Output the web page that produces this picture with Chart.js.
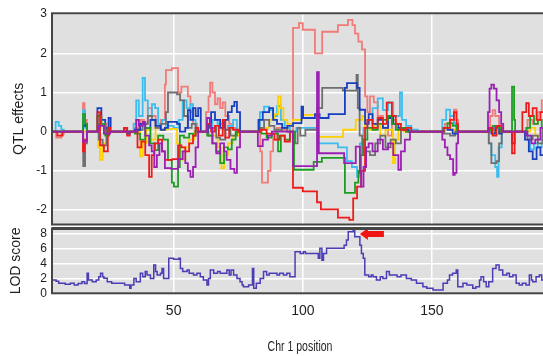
<!DOCTYPE html>
<html>
<head>
<meta charset="utf-8">
<script src="https://cdn.jsdelivr.net/npm/chart.js@4"></script>
<style>
  html, body { margin: 0; padding: 0; background: #fff; overflow: hidden; }
  #wrap { position: relative; width: 543px; height: 356px; overflow: hidden; }
  #qtlChart { position: absolute; left: 0; top: 0; }
  #lodChart { position: absolute; left: 0; top: 226px; }
  #xTitle {
    position: absolute; left: 200px; width: 200px; top: 337px;
    text-align: center; font: 15px 'Liberation Sans', Arial, sans-serif; color: #1e1e1e;
    transform: scaleX(0.7); transform-origin: 50% 50%;
  }
</style>
</head>
<body>
<div id="wrap">
  <canvas id="qtlChart" width="550" height="228"></canvas>
  <canvas id="lodChart" width="550" height="130"></canvas>
  <div id="xTitle">Chr 1 position</div>
</div>
<script>
// tick labels
const X_TICKS = [50, 100, 150];
const QTL_TICKS = [-2, -1, 0, 1, 2, 3];
const LOD_TICKS = [0, 2, 4, 6, 8];

// QTL effects per founder, [position, effect] (step lines)
const purple = [
  [2.9,0],
  [14.9,-0.25],[16.4,0],
  [21,0.15],[23,-0.05],[25.4,0],
  [35.5,0.3],[36.5,0.15],[38,0.25],[39,-0.1],[40.5,-0.35],[41.5,-0.5],[42.5,-0.9],[43.5,-0.6],[44.5,-0.3],[45.5,-0.5],[46.6,-0.93],[49,-0.95],[51.7,-0.7],[53.5,-0.5],[54.5,-0.8],[55.5,-1.0],[56.5,-1.15],[57.5,-0.9],[58.5,-0.4],[59.5,0],
  [62.9,0.35],[64,0.1],[65,-0.3],[66.5,-0.55],[68,-0.3],[69.5,-0.5],[70.5,-0.72],[72,-0.95],[73.5,-1.05],[74.5,-0.4],[75.7,0],
  [82.6,-0.37],[84.5,-0.2],[86.5,-0.1],[88,0],
  [96.2,-0.88],[105.5,1.52],[106.2,-0.55],[116,-0.8],[120.5,-0.38],[122.1,-1.05],[122.6,-1.4],[123.5,-0.9],[124.5,-0.4],[125.5,-0.3],[127,-0.5],[129,-0.2],[131,-0.45],[133,-0.3],[135,-0.6],[137,-0.97],[138,-0.5],[139.5,-0.2],[141.5,0],
  [154,-0.2],[155,-0.4],[156,-0.6],[157,-0.7],[158.2,-1.1],[158.8,-1.05],[159.5,-0.3],[160.1,0],
  [171.7,0.5],[172.3,1.1],[173,1.2],[174,1.1],[175,0.8],[176,0.5],[176.8,0.2],[177.6,0],
  [186.8,-0.1],[188.5,-0.3],[190,-0.2],[192,0.1],[196,0.1]
];
const red = [
  [2.9,0],
  [5,-0.1],[7,0],
  [14.9,-0.5],[15.5,-0.2],[16.4,0],
  [20.5,0.5],[21.5,-0.35],[23,-0.5],[24.5,0.1],[25.4,0],
  [31,0.1],[32,-0.1],[33,0],
  [36,-0.4],[37.5,-0.25],[39,-0.6],[40.5,-1.15],[41.5,-0.6],[42.5,-0.3],[44,-0.2],[45.5,-0.5],[46.6,-0.72],[49.5,-0.7],[51.7,-0.35],[53,-0.4],[54.5,-0.5],[56,-0.3],[57.5,-0.1],[58.5,0.1],[59.5,0],
  [63,0.2],[64.5,0],[66,0.15],[67.5,-0.1],[69,0.3],[70,-0.15],[71.5,0.1],[73,0.05],[75,0],
  [83.5,0.05],[86,-0.05],[89,-0.2],[91,-0.1],[93,-0.25],[95,0],
  [96.2,-1.43],[100,-1.52],[105.5,-1.8],[107,-1.98],[113.6,-2.19],[118,-2.25],[119.5,-1.7],[121,-1.4],[122.6,-1.0],[124.1,0.1],
  [125,0.3],[127,0.1],[129,0.35],[131,0.2],[132.5,0.74],[134.5,0.4],[136,0.2],[138,0.05],[140,0.1],[142,0],
  [154.5,0.1],[157,0.3],[158.5,0.5],[159.5,0.2],[160.1,0],
  [172,0.1],[173.5,-0.1],[175,0.15],[177,0],
  [181,-0.55],[182,0],
  [185,0.5],[186.5,0.73],[187.5,0.4],[189,0.6],[190.5,0.3],[192,0.5],[193.5,0.3],[196,0.3]
];
const salmon = [
  [2.9,0],
  [4.5,-0.15],[6.5,-0.05],[7.5,0],
  [14.9,0.73],[15.5,0.3],[16.4,0],
  [20.5,0.4],[22,0.2],[24,0.05],[25.4,0],
  [35,0.1],[37,0.3],[38.5,0.2],[40,0.6],[41.5,0.4],[43,0.1],[45,0.3],[46.6,1.2],[47,1.57],[49.3,1.62],[51.7,1.0],[53,1.15],[55.5,0.9],[56.5,0.5],[57.5,0.2],[59,0],
  [62.5,0.5],[63.5,0.9],[64.1,1.25],[65,1.0],[66,0.7],[67,0.85],[68,0.6],[69,0.75],[70,0.4],[71.5,0.2],[73,0.1],[74.5,0],
  [82.6,0.3],[83.5,-0.5],[84.2,-1.3],[86.5,-1.0],[87.5,-0.5],[88.5,-0.2],[90,0.1],[92,0.05],[94,0],
  [96.2,2.65],[98.5,2.77],[100,2.6],[104.7,2.0],[107.5,2.55],[113.6,2.72],[117.5,2.85],[119.2,2.72],[120.2,2.5],[121.5,2.3],[122.9,2.1],[124.1,0.9],
  [125,0.5],[126,0.9],[127.5,0.75],[129,0.4],[131,0.1],[133,-0.1],[134.5,0.3],[136,0.1],[138,0.05],[141,0],
  [155,0.2],[157,0.4],[158.5,0.56],[159.5,0.3],[160.1,0],
  [172.5,0.4],[173.5,0.55],[174.5,0.4],[176,0.1],[177,0],
  [187,0.3],[189,0.2],[191,0.5],[192.5,0.8],[193.5,0.5],[196,0.5]
];
const gray = [
  [2.9,0],
  [15,-0.88],[15.7,-0.3],[16.4,0],
  [21,-0.2],[22.5,-0.35],[24,0.1],[25,0],
  [36,0.05],[38,0.2],[40,0.4],[41.6,0.3],[43,0.1],[45,0.2],[47,0.5],[47.8,1.0],[51.3,0.95],[52.5,0.8],[54,0.4],[55.5,0.1],[57,0.2],[58.5,0],
  [63.5,-0.1],[65,0.1],[66.5,-0.15],[68,-0.2],[70,0.05],[72,-0.1],[74.5,0],
  [83.5,0.1],[85,0.3],[87,0.15],[89,0.05],[92,0.1],[94,0],
  [97,-0.3],[98,0.1],[99,-0.1],[101,0.05],[105.5,0.6],[107.5,1.12],[115.5,1.05],[120.8,1.45],[121.3,0.6],[122,-0.1],[123,-0.6],[124.1,-0.5],
  [126,-0.6],[128,-0.3],[130,-0.1],[132,-0.4],[134,-0.2],[136,-0.3],[138,0.05],[140,0],
  [154.5,-0.05],[157,-0.1],[159,0],
  [172,-0.3],[173,-0.8],[175,-0.75],[176,-0.3],[177,0],
  [187,-0.2],[189,-0.1],[191,-0.3],[193,0.1],[196,0.1]
];
const blue = [
  [2.9,0],
  [14.9,0.15],[15.7,0.2],[16.4,0],
  [20.5,0.6],[22,0.3],[23.5,0.1],[24.8,0.35],[25.6,0],
  [30.8,0.1],[32,-0.05],[33,0],
  [35,0.05],[37,0.2],[39,0.1],[41,0.3],[43,0.15],[45,0.05],[46.6,0.1],[47.8,0.25],[51.3,0.2],[52.4,0],[54.5,0.1],[55.5,0.55],[56.5,0.3],[57.5,0.6],[58.5,0.4],[59.5,0.6],[60.5,0],
  [63.3,0.2],[64.5,0.5],[66,0.3],[68,0.1],[69.5,0.3],[71,0.5],[72.5,0.65],[73.5,0.76],[74.5,0.5],[75.7,0],
  [83,0.3],[84.5,0.5],[87,0.6],[88.5,0.3],[90,0.2],[92,0.1],[94,0.15],[96.2,0.22],[99.5,0.64],[100.1,0.35],[104.7,0.45],[106.5,0.35],[110,0.45],[116.3,1.12],[117.1,1.24],[121,1.12],[122,0.56],[124.1,0.2],
  [125.5,0.45],[127,0.2],[129,0.3],[131,0.1],[133,0.35],[135,0.2],[137,0.1],[139,0.05],[141,0],
  [154.5,0.1],[156,0.05],[158,-0.05],[160,0],
  [172,0.1],[173,-0.05],[174.5,0.15],[176,-0.05],[177,0],
  [181,-0.3],[182,0],
  [186,-0.2],[187.5,-0.5],[189,-0.7],[190.5,-0.4],[192,-0.6],[193.5,-0.3],[196,-0.3]
];
const lightBlue = [
  [2.9,0],
  [4.3,0.25],[5.5,0.15],[6.5,0.05],[7.5,0],
  [14.9,0.55],[15.7,0.1],[16.4,0],
  [21,0.2],[23,0.1],[25,0],
  [34.5,0.2],[35.5,0.8],[36.5,0.4],[38,1.37],[38.9,0.8],[40,0.4],[41.6,0.7],[42.8,0.6],[44,0.2],[45.5,0.3],[47,0.15],[50,0.1],[52,0.3],[53.5,0.8],[55,0.6],[56.5,0.7],[57.5,0.3],[58.5,0.05],[59.5,0],
  [63,0.1],[65,0.3],[67,0.2],[69,0.05],[71,0.15],[73,0.3],[74.5,0],
  [83.4,0.5],[85,0.64],[87,0.55],[88.4,0.4],[90,0.65],[91.5,0.3],[93,0.1],[95,0],
  [97.5,0.1],[105.9,-0.3],[113.6,-0.4],[117.1,-0.75],[119,-0.9],[121,-1.15],[122.1,-0.3],[123.5,0.1],
  [125,0.3],[127,0.6],[129,0.85],[131,0.55],[133,0.75],[135,0.4],[137.6,1.0],[138.4,0.3],[140,0.15],[142,0.05],[144.5,0],
  [154,0.3],[155.5,0.56],[157,0.4],[158.5,0.2],[160,0],
  [172,-0.3],[173,-0.6],[174.5,-0.9],[175.2,-1.15],[175.8,-0.4],[177,0],
  [186.5,-0.1],[188,-0.45],[189.5,-0.3],[191,-0.4],[192.5,0.1],[196,0.1]
];
const yellow = [
  [2.9,0],
  [20.8,-0.4],[21.5,-0.72],[22.5,-0.3],[24,0],
  [37,-0.63],[38,-0.3],[39.5,0.05],[41,-0.2],[43,0.1],[45,0.05],[47,0.07],[51.3,-0.3],[52.4,-0.5],[53.5,-0.72],[54.5,-0.4],[56,-0.2],[58,0],
  [63,0.1],[65,-0.1],[67,-0.4],[68.5,-0.93],[69.5,-0.6],[71,-0.3],[73,-0.1],[75,0],
  [84,0.1],[87,0.3],[89,0.45],[90.4,0.9],[91.5,0.6],[92.5,0.3],[94,0.2],[96.2,0.3],[99.7,0.43],[105.9,-0.13],[115.6,0.05],[120.5,0.3],[123,0.4],[124.1,0.1],
  [126,0.05],[128,0.2],[130,-0.1],[132,0.05],[134.9,-0.8],[135.7,-0.2],[137,0.05],[139,0],
  [155,0.1],[157,0.05],[159,0],
  [172.5,0.05],[174.5,-0.05],[176,0],
  [188,0.1],[190,-0.1],[192,0.05],[196,0.05]
];
const green = [
  [2.9,0],
  [14.9,0.45],[15.7,0.2],[16.4,0],
  [20.5,0.4],[22,0.2],[23.5,-0.1],[25,0],
  [35,-0.05],[37,-0.2],[39,0.1],[41,-0.3],[42.8,-0.47],[44,-0.1],[46,-0.2],[47.8,-0.72],[49.3,-1.3],[50.1,-1.4],[51.7,-0.9],[52.4,-0.1],[54,-0.15],[56,-0.05],[57.5,-0.1],[58.5,0],
  [63,-0.1],[65,-0.3],[66.5,-0.5],[68,-0.8],[69.5,-0.4],[71,-0.45],[72.5,-0.2],[74,0],
  [84,-0.05],[86,-0.15],[88,-0.05],[90.4,-0.5],[91.5,-0.1],[93,-0.2],[95,0],
  [96.6,-0.97],[104.2,-0.77],[107.4,-0.67],[116.3,-1.56],[120.2,-1.3],[121.5,-1.0],[122.5,-0.6],[123.5,-0.2],
  [125,0.1],[127,0.05],[129,0.2],[131,0.3],[133,0.4],[134.5,0.2],[136,0.05],[138,0.1],[140,0],
  [154.5,0.1],[156,0.22],[158,0.15],[159.5,0.05],[160.1,0],
  [172,0.05],[173.5,0.15],[175,0.1],[176.5,0],
  [181,1.15],[181.8,0.3],[182.2,0],
  [186.5,0.1],[188,0.4],[189.5,0.2],[191,0.3],[192.5,0.1],[196,0.1]
];

// LOD score, [position, lod]
const lod = [
  [2.9,1.77],[4.5,1.6],[5.5,1.33],[8,1.2],[10,1.33],[11.5,1.1],[13,1.3],[14.5,1.55],[15.5,1.3],[16.5,2.67],[17,1.77],[18.5,1.55],[20,1.77],[21,2.2],[21.7,2.67],[22.5,2.2],[23,2.0],[24.3,1.55],[26,1.33],[29.4,1.33],[31,1.1],[33,0.66],[33.5,1.1],[34.6,1.99],[35.5,1.55],[37.1,2.67],[38,2.2],[39,2.9],[39.7,2.44],[41,1.99],[42.3,3.77],[43,2.9],[43.6,2.44],[44.9,2.67],[45.5,3.3],[46.1,1.99],[48.1,4.66],[50,4.55],[52,4.66],[52.6,3.3],[53.5,2.9],[55.2,3.1],[56,2.67],[57.7,2.44],[59,2.67],[60.3,2.2],[61.5,1.77],[62.9,1.1],[63.5,1.99],[64.2,3.1],[65.5,2.67],[67,2.9],[68,2.67],[70.6,3.1],[71.5,2.44],[72.2,3.1],[73.2,2.44],[74.5,1.99],[75.7,1.55],[76.5,1.1],[77,0.88],[79,1.1],[80.5,3.3],[81,0.66],[82,1.33],[83.5,1.99],[84.8,2.9],[86,2.44],[87,2.67],[88.6,2.67],[90,2.44],[91,2.67],[92.5,2.44],[93.8,2.67],[95,2.2],[96.3,2.2],
  [97,5.55],[99,5.3],[100.2,5.55],[101,5.3],[105.3,5.3],[106,4.66],[106.6,6.0],[107.4,4.4],[108,5.3],[109.2,6.0],[114.4,6.0],[116,6.4],[116.9,7.1],[117.6,8.2],[119.5,8.44],[120.1,7.55],[121.4,7.55],[122.1,6.4],[122.7,5.3],[123.4,4.66],[124,2.44],
  [125.5,2.2],[126.5,2.44],[127.2,2.2],[128.5,1.77],[130,2.2],[131,1.99],[132.4,2.9],[133.5,2.44],[135,2.44],[136.5,2.2],[138,2.44],[140.1,1.99],[142,1.77],[144,1.33],[146.5,0.88],[148,0.66],[150.4,0.44],[153.6,0.44],[154.3,1.33],[156,1.77],[156.8,2.44],[158,2.67],[159.4,3.1],[160,0.88],[162,1.33],[163.5,1.1],[165.8,0.66],[167,0.88],[168.4,1.77],[169,2.2],[170,1.55],[171,0.88],[172,1.55],[173.5,3.3],[174.8,3.77],[176,3.1],[177.4,2.44],[179,2.67],[180,2.2],[181.3,2.44],[182.6,1.33],[183.8,1.1],[185,1.33],[186.4,1.1],[187.7,2.44],[188.5,1.77],[189,1.55],[190.3,2.2],[191.6,2.44],[192.5,1.77],[196,1.77]
];

// peak marker (position, lod)
const ARROW_AT = [122.1, 7.9];

const FONT = "'Liberation Sans', Arial, sans-serif";
const TEXT = '#1e1e1e';
const X_MIN = 2.9, X_MAX = 195.7;

const toXY = arr => arr.map(p => ({ x: p[0], y: p[1] }));

const panel = {
  id: 'panel',
  beforeDraw(chart) {
    const { ctx, chartArea: a } = chart;
    ctx.save();
    ctx.fillStyle = '#e0e0e0';
    ctx.fillRect(a.left, a.top, a.right - a.left, a.bottom - a.top);
    ctx.restore();
  },
  afterDraw(chart, args, opts) {
    const { ctx, chartArea: a } = chart;
    ctx.save();
    ctx.strokeStyle = '#454545';
    ctx.lineWidth = 2;
    ctx.strokeRect(a.left, a.top, a.right - a.left, a.bottom - a.top);
    if (opts.thickTop) {
      ctx.lineWidth = 3;
      ctx.beginPath();
      ctx.moveTo(a.left, a.top);
      ctx.lineTo(a.right, a.top);
      ctx.stroke();
    }
    ctx.restore();
  }
};

const arrow = {
  id: 'arrow',
  afterDatasetsDraw(chart) {
    const { ctx, scales } = chart;
    const tx = scales.x.getPixelForValue(ARROW_AT[0]);
    const ty = scales.y.getPixelForValue(ARROW_AT[1]);
    ctx.save();
    ctx.fillStyle = '#f01414';
    ctx.beginPath();
    ctx.moveTo(tx, ty);
    ctx.lineTo(tx + 8, ty - 6);
    ctx.lineTo(tx + 8, ty - 3);
    ctx.lineTo(tx + 24, ty - 3);
    ctx.lineTo(tx + 24, ty + 3);
    ctx.lineTo(tx + 8, ty + 3);
    ctx.lineTo(tx + 8, ty + 6);
    ctx.closePath();
    ctx.fill();
    ctx.restore();
  }
};

const gridStyle = { color: '#ffffff', lineWidth: 1.5, drawTicks: false };
const tickSet = list => s => { s.ticks = list.map(v => ({ value: v })); };

const founders = [
  { data: purple, color: '#9b1fb2' },
  { data: red, color: '#ee1b1b' },
  { data: green, color: '#1d9e23' },
  { data: blue, color: '#183fbf' },
  { data: gray, color: '#6f6f6f' },
  { data: yellow, color: '#ffd000' },
  { data: lightBlue, color: '#3cbdf0' },
  { data: salmon, color: '#f27a78' }
];

new Chart(document.getElementById('qtlChart'), {
  type: 'line',
  data: {
    datasets: founders.map(f => ({
      data: toXY(f.data),
      borderColor: f.color,
      borderWidth: 1.8,
      stepped: true,
      pointRadius: 0,
      fill: false
    }))
  },
  options: {
    responsive: false,
    animation: false,
    events: [],
    layout: { padding: { top: 13.3, bottom: 3.5, left: 0, right: 0 } },
    plugins: { legend: { display: false }, tooltip: { enabled: false }, panel: {} },
    scales: {
      x: {
        type: 'linear', min: X_MIN, max: X_MAX,
        afterBuildTicks: tickSet(X_TICKS),
        afterFit: s => { s.height = 0; s.paddingLeft = 0; s.paddingRight = 0; },
        ticks: { display: false },
        grid: gridStyle,
        border: { display: false }
      },
      y: {
        min: -2.367, max: 3.02,
        afterBuildTicks: tickSet(QTL_TICKS),
        afterFit: s => { s.width = 52; s.paddingTop = 0; s.paddingBottom = 0; },
        ticks: { padding: 5, autoSkip: false, color: TEXT, font: { family: FONT, size: 12 } },
        grid: gridStyle,
        border: { display: false },
        title: { display: true, text: 'QTL effects', color: TEXT, font: { family: FONT, size: 14 }, padding: { top: 11, bottom: 0 } }
      }
    }
  },
  plugins: [panel]
});

new Chart(document.getElementById('lodChart'), {
  type: 'line',
  data: {
    datasets: [{
      data: toXY(lod),
      borderColor: '#4a3db5',
      borderWidth: 1.5,
      stepped: true,
      pointRadius: 0,
      fill: false
    }]
  },
  options: {
    responsive: false,
    animation: false,
    events: [],
    layout: { padding: { top: 2.5, bottom: 0, left: 0, right: 0 } },
    plugins: { legend: { display: false }, tooltip: { enabled: false }, panel: { thickTop: true } },
    scales: {
      x: {
        type: 'linear', min: X_MIN, max: X_MAX,
        afterBuildTicks: tickSet(X_TICKS),
        afterFit: s => { s.height = 62.7; s.paddingLeft = 0; s.paddingRight = 0; },
        ticks: { padding: 9, autoSkip: false, color: TEXT, maxRotation: 0, font: { family: FONT, size: 14 } },
        grid: gridStyle,
        border: { display: false }
      },
      y: {
        min: 0, max: 8.64,
        afterBuildTicks: tickSet(LOD_TICKS),
        afterFit: s => { s.width = 52; s.paddingTop = 0; s.paddingBottom = 0; },
        ticks: { padding: 5, autoSkip: false, color: TEXT, font: { family: FONT, size: 12 } },
        grid: gridStyle,
        border: { display: false },
        title: { display: true, text: 'LOD score', color: TEXT, font: { family: FONT, size: 14 }, padding: { top: 8, bottom: 0 } }
      }
    }
  },
  plugins: [panel, arrow]
});
</script>
</body>
</html>
